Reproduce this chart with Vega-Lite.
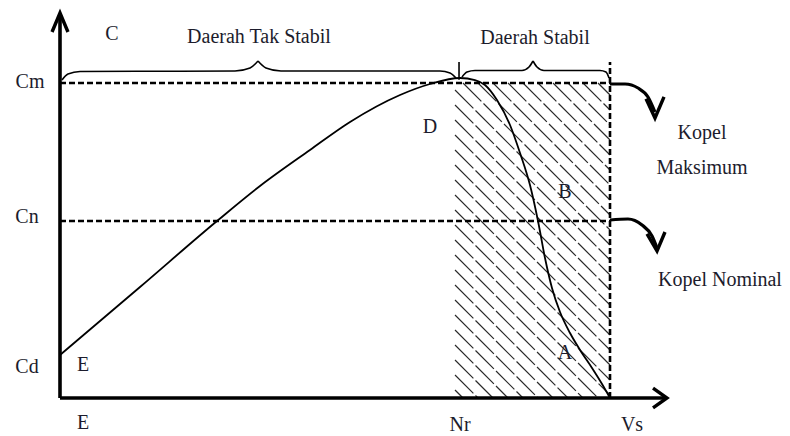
{
  "$schema": "https://vega.github.io/schema/vega-lite/v6.json",
  "width": 790,
  "height": 436,
  "padding": 0,
  "autosize": {"type": "none"},
  "background": "white",
  "config": {"view": {"stroke": null}},
  "datasets": {
    "curve": [
      {"n": 0, "c": 13.65}, {"n": 14.55, "c": 35.24}, {"n": 28.55, "c": 56.19},
      {"n": 36.36, "c": 67.3}, {"n": 45.45, "c": 78.73}, {"n": 52.73, "c": 87.62},
      {"n": 61.82, "c": 96.19}, {"n": 67.27, "c": 99.68}, {"n": 72.73, "c": 101.59},
      {"n": 75.45, "c": 100.95}, {"n": 77.27, "c": 99.37}, {"n": 79.45, "c": 94.6},
      {"n": 81.82, "c": 86.67}, {"n": 83.64, "c": 77.78}, {"n": 85.45, "c": 67.62},
      {"n": 86.91, "c": 56.19}, {"n": 88.18, "c": 44.44}, {"n": 89.45, "c": 34.92},
      {"n": 90.91, "c": 27.3}, {"n": 92.73, "c": 20.63}, {"n": 94.55, "c": 15.24},
      {"n": 96.73, "c": 9.52}, {"n": 98.55, "c": 4.44}, {"n": 100, "c": 0}
    ],
    "hatch": [
      {"x": 71.82, "y": 2.54, "x2": 73.27, "y2": 0},
      {"x": 71.82, "y": 7.3, "x2": 76.0, "y2": 0},
      {"x": 71.82, "y": 12.06, "x2": 78.73, "y2": 0},
      {"x": 71.82, "y": 16.83, "x2": 81.45, "y2": 0},
      {"x": 71.82, "y": 21.59, "x2": 84.18, "y2": 0},
      {"x": 71.82, "y": 26.35, "x2": 86.91, "y2": 0},
      {"x": 71.82, "y": 31.11, "x2": 89.64, "y2": 0},
      {"x": 71.82, "y": 35.87, "x2": 92.36, "y2": 0},
      {"x": 71.82, "y": 40.63, "x2": 95.09, "y2": 0},
      {"x": 71.82, "y": 45.4, "x2": 97.82, "y2": 0},
      {"x": 71.82, "y": 50.16, "x2": 100, "y2": 0.95},
      {"x": 71.82, "y": 54.92, "x2": 100, "y2": 5.71},
      {"x": 71.82, "y": 59.68, "x2": 100, "y2": 10.48},
      {"x": 71.82, "y": 64.44, "x2": 100, "y2": 15.24},
      {"x": 71.82, "y": 69.21, "x2": 100, "y2": 20.0},
      {"x": 71.82, "y": 73.97, "x2": 100, "y2": 24.76},
      {"x": 71.82, "y": 78.73, "x2": 100, "y2": 29.52},
      {"x": 71.82, "y": 83.49, "x2": 100, "y2": 34.29},
      {"x": 71.82, "y": 88.25, "x2": 100, "y2": 39.05},
      {"x": 71.82, "y": 93.02, "x2": 100, "y2": 43.81},
      {"x": 71.82, "y": 97.78, "x2": 100, "y2": 48.57},
      {"x": 73.27, "y": 100, "x2": 100, "y2": 53.33},
      {"x": 76.0, "y": 100, "x2": 100, "y2": 58.1},
      {"x": 78.73, "y": 100, "x2": 100, "y2": 62.86},
      {"x": 81.45, "y": 100, "x2": 100, "y2": 67.62},
      {"x": 84.18, "y": 100, "x2": 100, "y2": 72.38},
      {"x": 86.91, "y": 100, "x2": 100, "y2": 77.14},
      {"x": 89.64, "y": 100, "x2": 100, "y2": 81.9},
      {"x": 92.36, "y": 100, "x2": 100, "y2": 86.67},
      {"x": 95.09, "y": 100, "x2": 100, "y2": 91.43},
      {"x": 97.82, "y": 100, "x2": 100, "y2": 96.19}
    ],
    "guides": [
      {"x": 0, "y": 100, "x2": 100, "y2": 100},
      {"x": 0, "y": 56.19, "x2": 100, "y2": 56.19},
      {"x": 100, "y": 0, "x2": 100, "y2": 106.67}
    ],
    "shafts": [
      {"x": 0, "y": 0, "x2": 0, "y2": 121.5},
      {"x": 0, "y": 0, "x2": 110, "y2": 0}
    ],
    "heads": [
      {"seg": "yaxis", "i": 0, "x": -1.45, "y": 116.19},
      {"seg": "yaxis", "i": 1, "x": 0, "y": 122.22},
      {"seg": "yaxis", "i": 2, "x": 1.45, "y": 116.19},
      {"seg": "xaxis", "i": 0, "x": 107.82, "y": 3.17},
      {"seg": "xaxis", "i": 1, "x": 110.36, "y": 0},
      {"seg": "xaxis", "i": 2, "x": 107.82, "y": -3.17},
      {"seg": "cmHead", "i": 0, "x": 106.55, "y": 95.0},
      {"seg": "cmHead", "i": 1, "x": 108.18, "y": 88.9},
      {"seg": "cmHead", "i": 2, "x": 109.82, "y": 95.6},
      {"seg": "cnHead", "i": 0, "x": 106.73, "y": 52.1},
      {"seg": "cnHead", "i": 1, "x": 108.55, "y": 46.7},
      {"seg": "cnHead", "i": 2, "x": 110.0, "y": 52.7}
    ],
    "arrows": [
      {"seg": "cm", "i": 0, "x": 100, "y": 99.68},
      {"seg": "cm", "i": 1, "x": 102.73, "y": 99.68},
      {"seg": "cm", "i": 2, "x": 105.09, "y": 98.41},
      {"seg": "cm", "i": 3, "x": 106.91, "y": 95.56},
      {"seg": "cm", "i": 4, "x": 108.18, "y": 90.79},
      {"seg": "cn", "i": 0, "x": 100, "y": 56.51},
      {"seg": "cn", "i": 1, "x": 103.27, "y": 56.83},
      {"seg": "cn", "i": 2, "x": 105.82, "y": 54.92},
      {"seg": "cn", "i": 3, "x": 107.64, "y": 51.43},
      {"seg": "cn", "i": 4, "x": 108.55, "y": 47.62}
    ],
    "braces": [
      {"seg": "b1L", "i": 0, "x": 0.36, "y": 100.95},
      {"seg": "b1L", "i": 1, "x": 1.45, "y": 102.86},
      {"seg": "b1L", "i": 2, "x": 3.64, "y": 103.65},
      {"seg": "b1L", "i": 3, "x": 31.82, "y": 103.81},
      {"seg": "b1L", "i": 4, "x": 34.55, "y": 104.76},
      {"seg": "b1L", "i": 5, "x": 36.0, "y": 106.98},
      {"seg": "b1R", "i": 0, "x": 36.0, "y": 106.98},
      {"seg": "b1R", "i": 1, "x": 37.45, "y": 104.76},
      {"seg": "b1R", "i": 2, "x": 40.18, "y": 103.81},
      {"seg": "b1R", "i": 3, "x": 69.09, "y": 103.81},
      {"seg": "b1R", "i": 4, "x": 70.91, "y": 103.17},
      {"seg": "b1R", "i": 5, "x": 72.0, "y": 101.59},
      {"seg": "b2L", "i": 0, "x": 73.09, "y": 101.9},
      {"seg": "b2L", "i": 1, "x": 74.0, "y": 103.49},
      {"seg": "b2L", "i": 2, "x": 75.45, "y": 103.97},
      {"seg": "b2L", "i": 3, "x": 84.0, "y": 103.97},
      {"seg": "b2L", "i": 4, "x": 85.27, "y": 105.08},
      {"seg": "b2L", "i": 5, "x": 86.0, "y": 106.98},
      {"seg": "b2R", "i": 0, "x": 86.0, "y": 106.98},
      {"seg": "b2R", "i": 1, "x": 86.73, "y": 105.08},
      {"seg": "b2R", "i": 2, "x": 88.0, "y": 103.97},
      {"seg": "b2R", "i": 3, "x": 98.18, "y": 103.97},
      {"seg": "b2R", "i": 4, "x": 99.27, "y": 103.49},
      {"seg": "b2R", "i": 5, "x": 99.82, "y": 101.59}
    ],
    "ticks": [
      {"x": 72.55, "y": 101.0, "x2": 72.55, "y2": 106.67}
    ],
    "labels": [
      {"label": "C", "x": 9.45, "y": 115.56},
      {"label": "Daerah Tak Stabil", "x": 36.18, "y": 114.6},
      {"label": "Daerah Stabil", "x": 86.36, "y": 114.29},
      {"label": "Cm", "x": -5.45, "y": 100.32},
      {"label": "Cn", "x": -6.0, "y": 57.46},
      {"label": "Cd", "x": -6.0, "y": 9.84},
      {"label": "E", "x": 4.18, "y": 10.48},
      {"label": "E", "x": 4.18, "y": -7.94},
      {"label": "Nr", "x": 72.73, "y": -8.57},
      {"label": "Vs", "x": 104.0, "y": -8.57},
      {"label": "D", "x": 67.27, "y": 86.03},
      {"label": "B", "x": 91.82, "y": 65.4},
      {"label": "A", "x": 91.82, "y": 14.29},
      {"label": "Kopel", "x": 116.73, "y": 84.13},
      {"label": "Maksimum", "x": 116.73, "y": 73.02},
      {"label": "Kopel Nominal", "x": 120.0, "y": 37.46}
    ]
  },
  "layer": [
    {
      "data": {"name": "hatch"},
      "mark": {"type": "rule", "color": "#2a2a2a", "strokeWidth": 1.2, "strokeDash": [26, 3]},
      "encoding": {
        "x": {"field": "x", "type": "quantitative", "axis": null, "scale": {"domain": [-10.909, 132.727], "nice": false, "zero": false}},
        "y": {"field": "y", "type": "quantitative", "axis": null, "scale": {"domain": [-12.063, 126.349], "nice": false, "zero": false}},
        "x2": {"field": "x2"},
        "y2": {"field": "y2"}
      }
    },
    {
      "data": {"name": "guides"},
      "mark": {"type": "rule", "color": "black", "strokeWidth": 2.6, "strokeDash": [6, 3]},
      "encoding": {
        "x": {"field": "x", "type": "quantitative", "axis": null},
        "y": {"field": "y", "type": "quantitative", "axis": null},
        "x2": {"field": "x2"},
        "y2": {"field": "y2"}
      }
    },
    {
      "data": {"name": "curve"},
      "mark": {"type": "line", "color": "black", "strokeWidth": 1.8, "interpolate": "monotone"},
      "encoding": {
        "x": {"field": "n", "type": "quantitative", "axis": null},
        "y": {"field": "c", "type": "quantitative", "axis": null}
      }
    },
    {
      "data": {"name": "shafts"},
      "mark": {"type": "rule", "color": "black", "strokeWidth": 3.6},
      "encoding": {
        "x": {"field": "x", "type": "quantitative", "axis": null},
        "y": {"field": "y", "type": "quantitative", "axis": null},
        "x2": {"field": "x2"},
        "y2": {"field": "y2"}
      }
    },
    {
      "data": {"name": "ticks"},
      "mark": {"type": "rule", "color": "black", "strokeWidth": 1.6},
      "encoding": {
        "x": {"field": "x", "type": "quantitative", "axis": null},
        "y": {"field": "y", "type": "quantitative", "axis": null},
        "x2": {"field": "x2"},
        "y2": {"field": "y2"}
      }
    },
    {
      "data": {"name": "braces"},
      "mark": {"type": "line", "color": "black", "strokeWidth": 1.6, "interpolate": "monotone"},
      "encoding": {
        "x": {"field": "x", "type": "quantitative", "axis": null},
        "y": {"field": "y", "type": "quantitative", "axis": null},
        "detail": {"field": "seg"},
        "order": {"field": "i"}
      }
    },
    {
      "data": {"name": "arrows"},
      "mark": {"type": "line", "color": "black", "strokeWidth": 3.2, "interpolate": "monotone"},
      "encoding": {
        "x": {"field": "x", "type": "quantitative", "axis": null},
        "y": {"field": "y", "type": "quantitative", "axis": null},
        "detail": {"field": "seg"},
        "order": {"field": "i"}
      }
    },
    {
      "data": {"name": "heads"},
      "mark": {"type": "line", "color": "black", "strokeWidth": 3.4, "strokeJoin": "miter"},
      "encoding": {
        "x": {"field": "x", "type": "quantitative", "axis": null},
        "y": {"field": "y", "type": "quantitative", "axis": null},
        "detail": {"field": "seg"},
        "order": {"field": "i"}
      }
    },
    {
      "data": {"name": "labels"},
      "mark": {"type": "text", "font": "Liberation Serif, Times New Roman, serif", "fontSize": 20, "color": "#1c1c2c", "align": "center", "baseline": "middle"},
      "encoding": {
        "x": {"field": "x", "type": "quantitative", "axis": null},
        "y": {"field": "y", "type": "quantitative", "axis": null},
        "text": {"field": "label"}
      }
    }
  ]
}
